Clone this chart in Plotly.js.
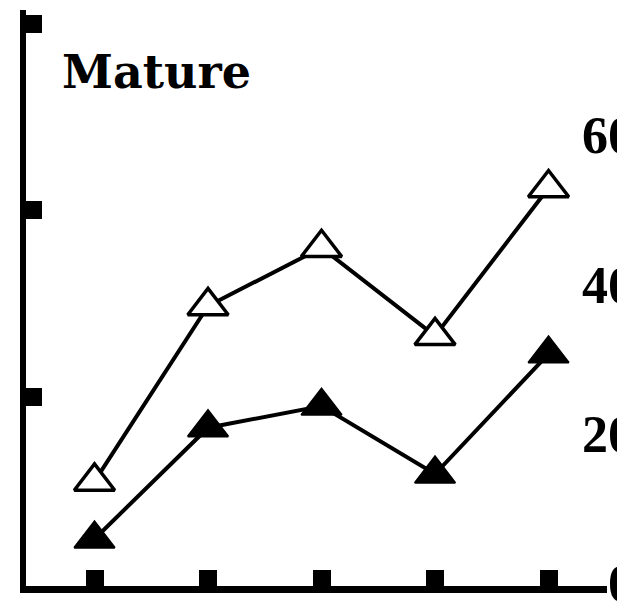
<!DOCTYPE html>
<html>
<head>
<meta charset="utf-8">
<script src="https://cdn.plot.ly/plotly-3.0.1.min.js"></script>
<style>
  html, body { margin: 0; padding: 0; background: #ffffff; }
  #chart { width: 617px; height: 602px; }
</style>
</head>
<body>
<div id="chart"></div>
<script>
// Sampling points along the x axis (unlabelled)
const xPoints = [1, 2, 3, 4, 5];

// Two series on the "Mature" panel
const openSeries = [13.7, 37.2, 45.0, 33.2, 53.0];
const filledSeries = [6.0, 20.9, 23.8, 14.7, 30.8];

// Left-axis tick marks (no labels) and the scale labels of the neighbouring panel
const leftTicks = [25, 50, 75];
const rightTicks = [0, 20, 40, 60];
const rightTickText = ['0', '20', '40', '60'];

const yRange = [-0.3, 76.84];
const xRange = [0.3965, 5.515];

const titleFont = { family: '"DejaVu Serif", "Liberation Serif", serif', weight: 'bold', color: '#000000', size: 46 };
const digitFont = { family: '"Liberation Serif", "DejaVu Serif", serif', weight: 'bold', color: '#000000', size: 52 };

const lineStyle = { color: '#000000', width: 4 };

const traces = [
  {
    x: xPoints,
    y: openSeries,
    type: 'scatter',
    mode: 'lines+markers',
    line: lineStyle,
    marker: { symbol: 'triangle-up', size: 35, color: '#ffffff', line: { color: '#000000', width: 3.5 } },
    showlegend: false,
    hoverinfo: 'skip'
  },
  {
    x: xPoints,
    y: filledSeries,
    type: 'scatter',
    mode: 'lines+markers',
    line: lineStyle,
    marker: { symbol: 'triangle-up', size: 35, color: '#000000', line: { color: '#000000', width: 2 } },
    showlegend: false,
    hoverinfo: 'skip'
  }
];

// Scale labels, right-aligned just past the right edge (partly cut off), placed on the y scale
const scaleLabels = rightTicks.map((v, i) => ({
  x: 1.0482, xref: 'paper', xanchor: 'right',
  y: v, yref: 'y', yanchor: 'middle',
  text: rightTickText[i], showarrow: false,
  font: digitFont,
  borderpad: 0
}));

const layout = {
  width: 617,
  height: 602,
  margin: { l: 26, r: 10, t: 10, b: 16, pad: 0 },
  paper_bgcolor: '#ffffff',
  plot_bgcolor: '#ffffff',
  title: {
    text: 'Mature',
    font: titleFont,
    xref: 'container', x: 62 / 617, xanchor: 'left',
    yref: 'container', y: 1 - 72 / 602, yanchor: 'middle'
  },
  xaxis: {
    range: xRange,
    showgrid: false, zeroline: false,
    showline: true, linecolor: '#000000', linewidth: 7,
    tickmode: 'array', tickvals: xPoints, ticktext: ['', '', '', '', ''],
    ticks: 'inside', ticklen: 16, tickwidth: 18, tickcolor: '#000000',
    showticklabels: false, fixedrange: true
  },
  yaxis: {
    range: yRange,
    showgrid: false, zeroline: false,
    showline: true, linecolor: '#000000', linewidth: 6,
    tickmode: 'array', tickvals: leftTicks,
    ticks: 'inside', ticklen: 16, tickwidth: 18, tickcolor: '#000000',
    showticklabels: false, fixedrange: true
  },
  annotations: scaleLabels,
  showlegend: false
};

Plotly.newPlot('chart', traces, layout, { displayModeBar: false, staticPlot: true });
</script>
</body>
</html>
